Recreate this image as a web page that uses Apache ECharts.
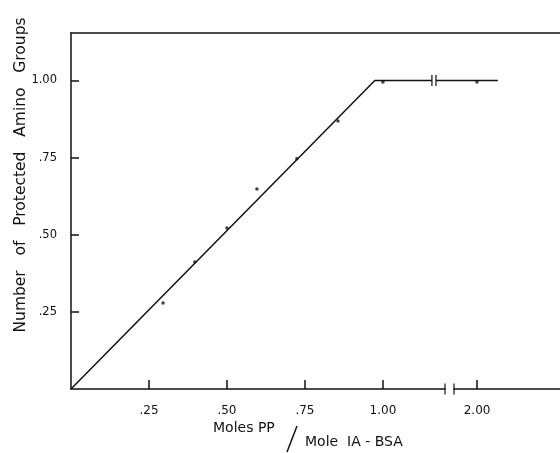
<!DOCTYPE html>
<html>
<head>
<meta charset="utf-8">
<script src="https://cdn.jsdelivr.net/npm/echarts@6.0.0/dist/echarts.min.js"></script>
<style>html,body{margin:0;padding:0;background:#fff;}#c{width:560px;height:453px;}</style>
</head>
<body>
<div id="c"></div>
<script>
// ---- data ----
const xTicksLeft = [0.25, 0.50, 0.75, 1.00];
const xTickLabelsLeft = ['.25', '.50', '.75', '1.00'];
const xTicksRight = [2.00];
const xTickLabelsRight = ['2.00'];
const yTicks = [0.25, 0.50, 0.75, 1.00];
const yTickLabels = ['.25', '.50', '.75', '1.00'];
const pointsLeft = [[0.295, 0.279], [0.397, 0.412], [0.500, 0.522], [0.596, 0.648], [0.724, 0.746], [0.856, 0.869], [1.00, 0.995]];
const pointsRight = [[2.00, 0.995]];
const fitLineLeft = [[0, 0], [0.974, 1.0], [1.157, 1.0]];
const fitLineRight = [[1.869, 1.0], [2.067, 1.0]];
const lineBreakLeft = [[1.157, 1.0]];
const lineBreakRight = [[1.869, 1.0]];
const axisBreakLeft = [[1.199, 0]];
const axisBreakRight = [[1.926, 0]];
const xLeftRange = [0, 1.199];
const xRightLineRange = [1.869, 2.266];
const xRightAxisRange = [1.926, 2.266];
const yRange = [0, 1.154];
const yName = 'Number   of   Protected   Amino   Groups';
const xNameA = 'Moles PP';
const xNameB = 'Mole  IA - BSA';

const ink = '#111';
const font = 'DejaVu Sans';
const chart = echarts.init(document.getElementById('c'), null, {renderer: 'canvas'});
const axisLineStyle = {color: ink, width: 1.5};
function hiddenY(i) { return {gridIndex: i, type: 'value', min: yRange[0], max: yRange[1], show: false}; }
chart.setOption({
  animation: false,
  backgroundColor: '#fff',
  grid: [
    {left: 71, top: 33, right: 0, bottom: 64},
    {left: 71, top: 33, width: 374, bottom: 64},
    {left: 436, top: 33, right: 0, bottom: 64},
    {left: 454, top: 33, right: 0, bottom: 64}
  ],
  xAxis: [
    {gridIndex: 0, type: 'value', position: 'top', min: 0, max: 1,
      axisLine: {show: true, onZero: false, lineStyle: axisLineStyle}, axisTick: {show: false},
      axisLabel: {show: false}, splitLine: {show: false}},
    {gridIndex: 1, type: 'value', min: xLeftRange[0], max: xLeftRange[1],
      axisLine: {show: true, onZero: false, lineStyle: axisLineStyle},
      axisTick: {show: true, inside: true, length: 9, customValues: xTicksLeft, lineStyle: axisLineStyle},
      axisLabel: {show: true, customValues: xTicksLeft, margin: 16, color: ink, fontFamily: font, fontSize: 12,
        formatter: v => xTickLabelsLeft[xTicksLeft.findIndex(t => Math.abs(t - v) < 1e-6)]},
      splitLine: {show: false}},
    {gridIndex: 2, type: 'value', min: xRightLineRange[0], max: xRightLineRange[1], show: false},
    {gridIndex: 3, type: 'value', min: xRightAxisRange[0], max: xRightAxisRange[1],
      axisLine: {show: true, onZero: false, lineStyle: axisLineStyle},
      axisTick: {show: true, inside: true, length: 9, customValues: xTicksRight, lineStyle: axisLineStyle},
      axisLabel: {show: true, customValues: xTicksRight, margin: 16, color: ink, fontFamily: font, fontSize: 12,
        formatter: v => xTickLabelsRight[xTicksRight.findIndex(t => Math.abs(t - v) < 1e-6)]},
      splitLine: {show: false}}
  ],
  yAxis: [
    {gridIndex: 0, type: 'value', min: yRange[0], max: yRange[1],
      axisLine: {show: true, onZero: false, lineStyle: axisLineStyle},
      axisTick: {show: true, inside: true, length: 8, customValues: yTicks, lineStyle: axisLineStyle},
      axisLabel: {show: true, customValues: yTicks, margin: 14, color: ink, fontFamily: font, fontSize: 11.5,
        formatter: v => yTickLabels[yTicks.findIndex(t => Math.abs(t - v) < 1e-6)]},
      splitLine: {show: false}},
    hiddenY(1), hiddenY(2), hiddenY(3)
  ],
  series: [
    {type: 'line', xAxisIndex: 1, yAxisIndex: 1, data: fitLineLeft, symbol: 'none', clip: false,
      lineStyle: {color: ink, width: 1.5}},
    {type: 'line', xAxisIndex: 2, yAxisIndex: 2, data: fitLineRight, symbol: 'none', clip: false,
      lineStyle: {color: ink, width: 1.5}},
    {type: 'scatter', xAxisIndex: 1, yAxisIndex: 1, data: pointsLeft, symbol: 'circle', symbolSize: 3.5,
      itemStyle: {color: ink}},
    {type: 'scatter', xAxisIndex: 2, yAxisIndex: 2, data: pointsRight, symbol: 'circle', symbolSize: 3.5,
      itemStyle: {color: ink}},
    {type: 'scatter', xAxisIndex: 1, yAxisIndex: 1, data: lineBreakLeft.concat(axisBreakLeft), clip: false,
      symbol: 'rect', symbolSize: [1.5, 11], itemStyle: {color: ink}},
    {type: 'scatter', xAxisIndex: 2, yAxisIndex: 2, data: lineBreakRight, clip: false,
      symbol: 'rect', symbolSize: [1.5, 11], itemStyle: {color: ink}},
    {type: 'scatter', xAxisIndex: 3, yAxisIndex: 3, data: axisBreakRight, clip: false,
      symbol: 'rect', symbolSize: [1.5, 11], itemStyle: {color: ink}}
  ],
  graphic: [
    {type: 'text', x: 21, y: 175, rotation: Math.PI / 2,
      style: {text: yName, fill: ink, font: '15.5px "DejaVu Sans"', align: 'center', verticalAlign: 'middle'}},
    {type: 'text', left: 213, top: 421, style: {text: xNameA, fill: ink, font: '14px "DejaVu Sans"'}},
    {type: 'line', shape: {x1: 297, y1: 426, x2: 287, y2: 452}, style: {stroke: ink, lineWidth: 1.5}},
    {type: 'text', left: 305, top: 435, style: {text: xNameB, fill: ink, font: '14px "DejaVu Sans"'}}
  ]
});
</script>
</body>
</html>
